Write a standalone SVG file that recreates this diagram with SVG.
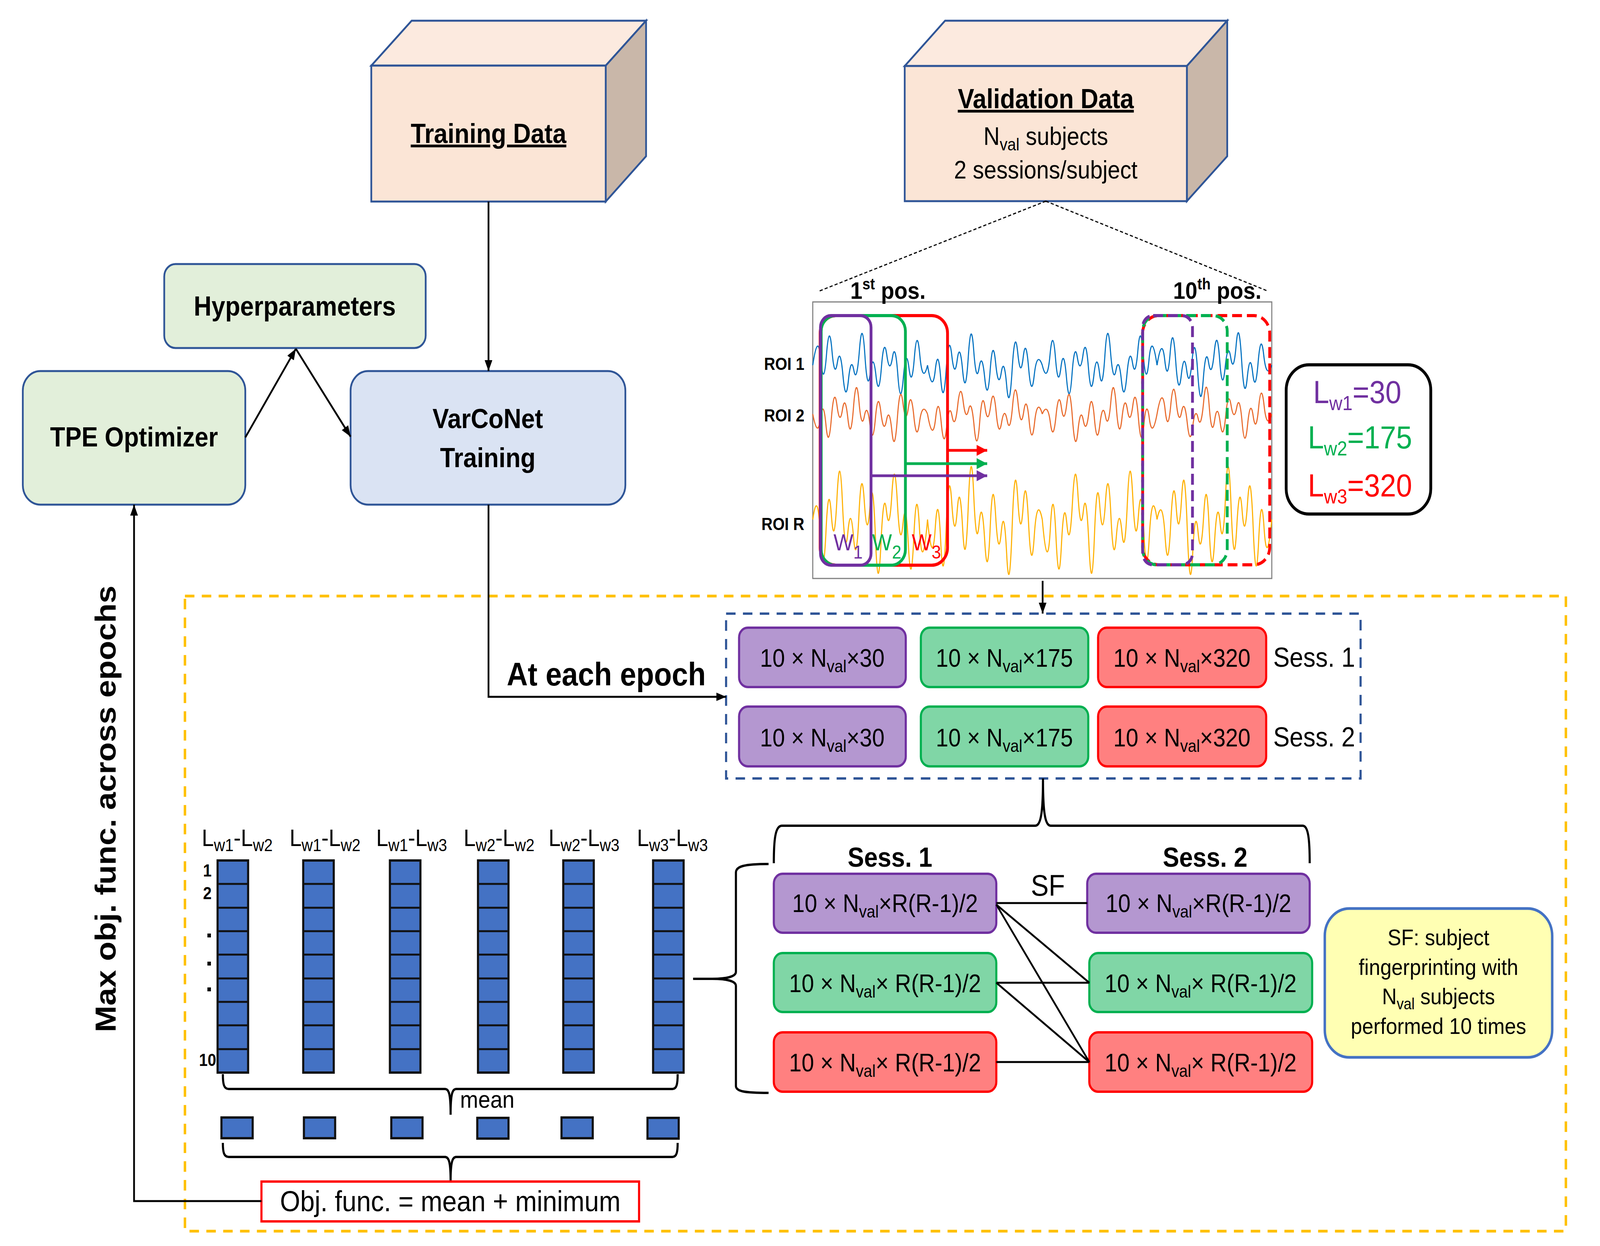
<svg xmlns="http://www.w3.org/2000/svg" width="4559" height="3190" viewBox="0 0 4559 3190">
<defs>
<style>
text{font-family:"Liberation Sans",Arial,sans-serif;fill:#000}
.b{font-weight:bold}
.node{stroke:#2F5597;stroke-width:5}
.pur{fill:#B497D0;stroke:#7030A0;stroke-width:6}
.grn{fill:#80D6A6;stroke:#00B050;stroke-width:6}
.red{fill:#FF8080;stroke:#FF0000;stroke-width:6}
.cell{fill:#4472C4;stroke:#111;stroke-width:6}
.cl{stroke:#111;stroke-width:5}
.ln{fill:none;stroke:#000;stroke-width:5}
.br{fill:none;stroke:#000;stroke-width:6}
.sig{fill:none;stroke-width:2.8;stroke-linejoin:round}
.win{fill:none;stroke-width:8}
.dw{fill:none;stroke-width:8;stroke-dasharray:28 14}
</style>
<marker id="ah" viewBox="0 0 28 22" refX="28" refY="11" markerWidth="28" markerHeight="22" markerUnits="userSpaceOnUse" orient="auto"><path d="M0,0 L28,11 L0,22 z" fill="#000"/></marker>
<marker id="mR" viewBox="0 0 30 28" refX="30" refY="14" markerWidth="30" markerHeight="28" markerUnits="userSpaceOnUse" orient="auto"><path d="M0,0 L30,14 L0,28 z" fill="#FF0000"/></marker>
<marker id="mG" viewBox="0 0 30 28" refX="30" refY="14" markerWidth="30" markerHeight="28" markerUnits="userSpaceOnUse" orient="auto"><path d="M0,0 L30,14 L0,28 z" fill="#00B050"/></marker>
<marker id="mP" viewBox="0 0 30 28" refX="30" refY="14" markerWidth="30" markerHeight="28" markerUnits="userSpaceOnUse" orient="auto"><path d="M0,0 L30,14 L0,28 z" fill="#7030A0"/></marker>
<path id="sa" fill="none" vector-effect="non-scaling-stroke" d="M0,0 Q15,-70 23,-10 Q31,50 39,-20 Q47,-90 54.5,-30 Q62,30 70,-5 Q78,-40 86,20 Q94,80 101.5,30 Q109,-20 117,10 Q125,40 133,-30 Q141,-100 148.5,-20 Q156,60 164,15 Q172,-30 180,20 Q188,70 195.5,5 Q203,-60 211,-20 Q219,20 227,-15 Q235,-50 242.5,20 Q250,90 258,25 Q266,-40 274,5 Q282,50 289.5,-15 Q297,-80 305,-20 Q313,40 327,0"/>
<path id="sb" fill="none" vector-effect="non-scaling-stroke" d="M0,0 Q14,60 22,10 Q30,-40 37.5,25 Q45,90 53,10 Q61,-70 69,-20 Q77,30 84.5,-10 Q92,-50 100,10 Q108,70 116,-15 Q124,-100 131.5,-30 Q139,40 147,5 Q155,-30 163,25 Q171,80 178.5,10 Q186,-60 194,-5 Q202,50 210,15 Q218,-20 225.5,40 Q233,100 241,10 Q249,-80 257,-25 Q265,30 272.5,-15 Q280,-60 288,5 Q296,70 304,20 Q312,-30 327,0"/>
</defs>
<rect width="4559" height="3190" fill="#fff"/>
<g id="diagram" transform="scale(0.8984,1)">

<rect id="epoch-region" x="527" y="1526" width="3935" height="1626" fill="none" stroke="#FFC000" stroke-width="7" stroke-dasharray="27 21"/>

<g id="training-data">
<polygon points="1058,168 1173,53 1841,53 1726,168" fill="#FCEADF" class="node"/>
<polygon points="1726,168 1841,53 1841,400 1726,516" fill="#C9B7A9" class="node"/>
<rect x="1058" y="168" width="668" height="348" fill="#FBE5D6" class="node"/>
<text x="1392" y="366" text-anchor="middle" class="b" font-size="70" text-decoration="underline">Training Data</text>
</g>

<g id="validation-data">
<polygon points="2578,169 2693,53 3497,53 3382,169" fill="#FCEADF" class="node"/>
<polygon points="3382,169 3497,53 3497,400 3382,515" fill="#C9B7A9" class="node"/>
<rect x="2578" y="169" width="804" height="346" fill="#FBE5D6" class="node"/>
<text x="2980" y="277" text-anchor="middle" class="b" font-size="70" text-decoration="underline">Validation Data</text>
<text x="2980" y="371" text-anchor="middle" font-size="64">N<tspan font-size="44" dy="14">val</tspan><tspan dy="-14"> subjects</tspan></text>
<text x="2980" y="457" text-anchor="middle" font-size="64">2 sessions/subject</text>
</g>

<g id="hyperparameters">
<rect x="468" y="676" width="745" height="215" rx="32" fill="#E2EFDA" class="node"/>
<text x="840" y="808" text-anchor="middle" class="b" font-size="70">Hyperparameters</text>
</g>
<g id="tpe-optimizer">
<rect x="65" y="950" width="634" height="342" rx="50" fill="#E2EFDA" class="node"/>
<text x="382" y="1143" text-anchor="middle" class="b" font-size="70">TPE Optimizer</text>
</g>
<g id="varconet-training">
<rect x="999" y="950" width="783" height="342" rx="50" fill="#DAE3F3" class="node"/>
<text x="1390" y="1096" text-anchor="middle" class="b" font-size="70">VarCoNet</text>
<text x="1390" y="1196" text-anchor="middle" class="b" font-size="70">Training</text>
</g>

<g id="signal-chart">
<rect x="2316" y="773" width="1308" height="708" fill="#fff" stroke="#808080" stroke-width="3"/>
<text x="2423" y="765" class="b" font-size="62">1<tspan font-size="40" dy="-24">st</tspan><tspan dy="24"> pos.</tspan></text>
<text x="3343" y="765" class="b" font-size="62">10<tspan font-size="40" dy="-24">th</tspan><tspan dy="24"> pos.</tspan></text>
<text x="2292" y="947" text-anchor="end" class="b" font-size="44">ROI 1</text>
<text x="2292" y="1079" text-anchor="end" class="b" font-size="44">ROI 2</text>
<text x="2292" y="1357" text-anchor="end" class="b" font-size="44">ROI R</text>
<g class="sig" stroke="#0070C0">
<use href="#sa" transform="translate(2316,935) scale(1,1.3)"/>
<use href="#sb" transform="translate(2643,935) scale(1,1.3)"/>
<use href="#sa" transform="translate(3297,935) scale(-1,1.3)"/>
<use href="#sb" transform="translate(3297,935) scale(1,-1.3)"/>
</g>
<g class="sig" stroke="#E8692A">
<use href="#sb" transform="translate(2316,1060) scale(1,1.1)"/>
<use href="#sa" transform="translate(2643,1060) scale(1,-1.1)"/>
<use href="#sb" transform="translate(3297,1060) scale(-1,1.1)"/>
<use href="#sa" transform="translate(3297,1060) scale(1,1.1)"/>
</g>
<g class="sig" stroke="#FFB000">
<use href="#sa" transform="translate(2643,1330) scale(-1,-2.2)"/>
<use href="#sb" transform="translate(2643,1330) scale(1,2.2)"/>
<use href="#sa" transform="translate(2970,1330) scale(1,-2.2)"/>
<use href="#sb" transform="translate(3624,1330) scale(-1,2.2)"/>
</g>
<rect class="win" x="2337" y="808" width="363" height="639" rx="45" stroke="#FF0000"/>
<rect class="win" x="2340" y="808" width="240" height="639" rx="40" stroke="#00B050"/>
<rect class="win" x="2338" y="808" width="144" height="639" rx="30" stroke="#7030A0"/>
<line x1="2700" y1="1153" x2="2813" y2="1153" stroke="#FF0000" stroke-width="7" marker-end="url(#mR)"/>
<line x1="2580" y1="1187" x2="2813" y2="1187" stroke="#00B050" stroke-width="7" marker-end="url(#mG)"/>
<line x1="2482" y1="1218" x2="2813" y2="1218" stroke="#7030A0" stroke-width="7" marker-end="url(#mP)"/>
<text x="2375" y="1409" font-size="60" style="fill:#7030A0">W<tspan font-size="48" dy="21">1</tspan></text>
<text x="2485" y="1409" font-size="60" style="fill:#00B050">W<tspan font-size="48" dy="21">2</tspan></text>
<text x="2598" y="1409" font-size="60" style="fill:#FF0000">W<tspan font-size="48" dy="21">3</tspan></text>
<rect class="dw" x="3256" y="808" width="362" height="638" rx="45" stroke="#FF0000"/>
<rect class="dw" x="3256" y="808" width="241" height="638" rx="40" stroke="#00B050"/>
<rect class="dw" x="3256" y="808" width="142" height="638" rx="30" stroke="#7030A0"/>
</g>

<g id="window-legend">
<rect x="3665" y="934" width="412" height="382" rx="65" fill="#fff" stroke="#000" stroke-width="8"/>
<text x="3742" y="1032" font-size="82" style="fill:#7030A0">L<tspan font-size="52" dy="18">w1</tspan><tspan dy="-18">=30</tspan></text>
<text x="3727" y="1148" font-size="82" style="fill:#00B050">L<tspan font-size="52" dy="18">w2</tspan><tspan dy="-18">=175</tspan></text>
<text x="3727" y="1271" font-size="82" style="fill:#FF0000">L<tspan font-size="52" dy="18">w3</tspan><tspan dy="-18">=320</tspan></text>
</g>

<g id="window-tensors">
<rect x="2069" y="1571" width="1808" height="422" fill="none" stroke="#2F5597" stroke-width="6" stroke-dasharray="27 21"/>
<rect class="pur" x="2106" y="1607" width="475" height="152" rx="25"/>
<rect class="grn" x="2624" y="1607" width="477" height="152" rx="25"/>
<rect class="red" x="3129" y="1607" width="479" height="152" rx="25"/>
<rect class="pur" x="2106" y="1809" width="475" height="153" rx="25"/>
<rect class="grn" x="2624" y="1809" width="477" height="153" rx="25"/>
<rect class="red" x="3129" y="1809" width="479" height="153" rx="25"/>
<text x="2343" y="1707" text-anchor="middle" font-size="64">10 × N<tspan font-size="44" dy="14">val</tspan><tspan dy="-14">×30</tspan></text>
<text x="2862" y="1707" text-anchor="middle" font-size="64">10 × N<tspan font-size="44" dy="14">val</tspan><tspan dy="-14">×175</tspan></text>
<text x="3368" y="1707" text-anchor="middle" font-size="64">10 × N<tspan font-size="44" dy="14">val</tspan><tspan dy="-14">×320</tspan></text>
<text x="2343" y="1911" text-anchor="middle" font-size="64">10 × N<tspan font-size="44" dy="14">val</tspan><tspan dy="-14">×30</tspan></text>
<text x="2862" y="1911" text-anchor="middle" font-size="64">10 × N<tspan font-size="44" dy="14">val</tspan><tspan dy="-14">×175</tspan></text>
<text x="3368" y="1911" text-anchor="middle" font-size="64">10 × N<tspan font-size="44" dy="14">val</tspan><tspan dy="-14">×320</tspan></text>
<text x="3628" y="1707" font-size="70">Sess. 1</text>
<text x="3628" y="1911" font-size="70">Sess. 2</text>
</g>

<g id="fc-matrices">
<text x="2536" y="2219" text-anchor="middle" class="b" font-size="70">Sess. 1</text>
<text x="3434" y="2219" text-anchor="middle" class="b" font-size="70">Sess. 2</text>
<rect class="pur" x="2205" y="2237" width="634" height="151" rx="25"/>
<rect class="grn" x="2205" y="2440" width="634" height="151" rx="25"/>
<rect class="red" x="2205" y="2643" width="634" height="152" rx="25"/>
<rect class="pur" x="3098" y="2237" width="634" height="151" rx="25"/>
<rect class="grn" x="3104" y="2440" width="635" height="151" rx="25"/>
<rect class="red" x="3104" y="2643" width="635" height="152" rx="25"/>
<text x="2522" y="2335" text-anchor="middle" font-size="64">10 × N<tspan font-size="44" dy="14">val</tspan><tspan dy="-14">×R(R-1)/2</tspan></text>
<text x="2522" y="2540" text-anchor="middle" font-size="64">10 × N<tspan font-size="44" dy="14">val</tspan><tspan dy="-14">× R(R-1)/2</tspan></text>
<text x="2522" y="2743" text-anchor="middle" font-size="64">10 × N<tspan font-size="44" dy="14">val</tspan><tspan dy="-14">× R(R-1)/2</tspan></text>
<text x="3415" y="2335" text-anchor="middle" font-size="64">10 × N<tspan font-size="44" dy="14">val</tspan><tspan dy="-14">×R(R-1)/2</tspan></text>
<text x="3421" y="2540" text-anchor="middle" font-size="64">10 × N<tspan font-size="44" dy="14">val</tspan><tspan dy="-14">× R(R-1)/2</tspan></text>
<text x="3421" y="2743" text-anchor="middle" font-size="64">10 × N<tspan font-size="44" dy="14">val</tspan><tspan dy="-14">× R(R-1)/2</tspan></text>
<text x="2986" y="2293" text-anchor="middle" font-size="76">SF</text>
</g>

<g id="sf-legend">
<rect x="3775" y="2326" width="648" height="381" rx="70" fill="#FFFFB3" stroke="#4472C4" stroke-width="7"/>
<text x="4099" y="2420" text-anchor="middle" font-size="58">SF: subject</text>
<text x="4099" y="2496" text-anchor="middle" font-size="58">fingerprinting with</text>
<text x="4099" y="2571" text-anchor="middle" font-size="58">N<tspan font-size="40" dy="13">val</tspan><tspan dy="-13"> subjects</tspan></text>
<text x="4099" y="2647" text-anchor="middle" font-size="58">performed 10 times</text>
</g>

<g id="similarity-columns">
<text x="676" y="2166" text-anchor="middle" font-size="62">L<tspan font-size="44" dy="13">w1</tspan><tspan dy="-13">-L</tspan><tspan font-size="44" dy="13">w2</tspan></text>
<text x="926" y="2166" text-anchor="middle" font-size="62">L<tspan font-size="44" dy="13">w1</tspan><tspan dy="-13">-L</tspan><tspan font-size="44" dy="13">w2</tspan></text>
<text x="1173" y="2166" text-anchor="middle" font-size="62">L<tspan font-size="44" dy="13">w1</tspan><tspan dy="-13">-L</tspan><tspan font-size="44" dy="13">w3</tspan></text>
<text x="1422" y="2166" text-anchor="middle" font-size="62">L<tspan font-size="44" dy="13">w2</tspan><tspan dy="-13">-L</tspan><tspan font-size="44" dy="13">w2</tspan></text>
<text x="1664" y="2166" text-anchor="middle" font-size="62">L<tspan font-size="44" dy="13">w2</tspan><tspan dy="-13">-L</tspan><tspan font-size="44" dy="13">w3</tspan></text>
<text x="1916" y="2166" text-anchor="middle" font-size="62">L<tspan font-size="44" dy="13">w3</tspan><tspan dy="-13">-L</tspan><tspan font-size="44" dy="13">w3</tspan></text>
<text x="603" y="2244" text-anchor="end" class="b" font-size="44">1</text>
<text x="603" y="2302" text-anchor="end" class="b" font-size="44">2</text>
<rect x="591" y="2390" width="10" height="10" fill="#000"/>
<rect x="591" y="2462" width="10" height="10" fill="#000"/>
<rect x="591" y="2528" width="10" height="10" fill="#000"/>
<text x="616" y="2729" text-anchor="end" class="b" font-size="44">10</text>
<g id="col-template">
<rect class="cell" x="620" y="2203" width="87" height="543"/>
<path class="cl" d="M620,2263H707M620,2324H707M620,2384H707M620,2444H707M620,2505H707M620,2565H707M620,2625H707M620,2686H707"/>
</g>
<use href="#col-template" x="244"/>
<use href="#col-template" x="491"/>
<use href="#col-template" x="742"/>
<use href="#col-template" x="985"/>
<use href="#col-template" x="1241"/>
<path class="br" d="M635,2750 C635,2776 638,2788 652,2788 L1268,2788 C1279,2788 1284,2800 1284,2854 C1284,2800 1289,2788 1300,2788 L1916,2788 C1928,2788 1931,2776 1931,2750"/>
<text x="1311" y="2836" font-size="62">mean</text>
<rect class="cell" x="631" y="2861" width="89" height="53"/>
<rect class="cell" x="866" y="2861" width="89" height="53"/>
<rect class="cell" x="1115" y="2861" width="89" height="53"/>
<rect class="cell" x="1360" y="2862" width="89" height="53"/>
<rect class="cell" x="1600" y="2861" width="89" height="53"/>
<rect class="cell" x="1845" y="2862" width="89" height="53"/>
<path class="br" d="M635,2926 C635,2950 638,2962 652,2962 L1268,2962 C1279,2962 1284,2975 1284,3025 C1284,2975 1289,2962 1300,2962 L1916,2962 C1928,2962 1931,2950 1931,2926"/>
</g>

<g id="objective">
<rect x="745" y="3025" width="1076" height="102" fill="#fff" stroke="#FF0000" stroke-width="6"/>
<text x="1283" y="3101" text-anchor="middle" font-size="74">Obj. func. = mean + minimum</text>
</g>

<text transform="translate(330,2071) rotate(-90)" text-anchor="middle" class="b" font-size="82">Max obj. func. across epochs</text>
<text x="1444" y="1755" class="b" font-size="83">At each epoch</text>

<g id="connectors">
<line class="ln" x1="1392" y1="516" x2="1392" y2="950" marker-end="url(#ah)"/>
<line class="ln" x1="699" y1="1120" x2="843" y2="893" marker-end="url(#ah)"/>
<line class="ln" x1="843" y1="893" x2="999" y2="1118" marker-end="url(#ah)"/>
<polyline class="ln" points="1392,1292 1392,1784 2069,1784" marker-end="url(#ah)"/>
<line class="ln" x1="2971" y1="1487" x2="2971" y2="1571" marker-end="url(#ah)"/>
<polyline class="ln" points="745,3075 382,3075 382,1292" marker-end="url(#ah)" stroke-width="6"/>
<line x1="2980" y1="515" x2="2335" y2="745" stroke="#000" stroke-width="3" stroke-dasharray="9 6"/>
<line x1="2980" y1="515" x2="3612" y2="745" stroke="#000" stroke-width="3" stroke-dasharray="9 6"/>
<path class="br" d="M2205,2210 C2205,2150 2209,2114 2228,2114 L2950,2114 C2966,2114 2972,2080 2972,1993 C2972,2080 2978,2114 2994,2114 L3712,2114 C3728,2114 3732,2150 3732,2210"/>
<path class="br" d="M2190,2212 C2120,2212 2097,2218 2097,2234 L2097,2488 C2097,2500 2072,2506 2030,2506 C2072,2506 2097,2512 2097,2524 L2097,2780 C2097,2794 2120,2798 2190,2798 M1975,2506 L2030,2506"/>
<line class="ln" x1="2839" y1="2312" x2="3098" y2="2312"/>
<line class="ln" x1="2839" y1="2316" x2="3104" y2="2516"/>
<line class="ln" x1="2839" y1="2316" x2="3104" y2="2719"/>
<line class="ln" x1="2839" y1="2516" x2="3104" y2="2516"/>
<line class="ln" x1="2839" y1="2516" x2="3104" y2="2719"/>
<line class="ln" x1="2839" y1="2719" x2="3104" y2="2719"/>
</g>
</g>
</svg>
